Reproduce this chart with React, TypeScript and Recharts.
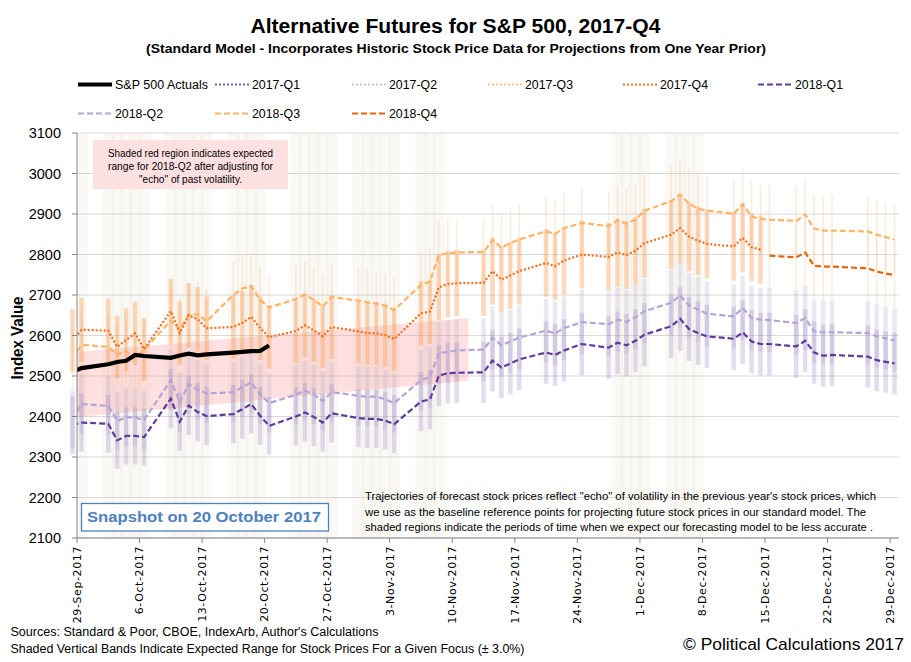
import React from "react";
import {
  ComposedChart,
  Line,
  Area,
  XAxis,
  YAxis,
  CartesianGrid,
  ErrorBar,
  ReferenceArea,
} from "recharts";

// trading days shown on the chart (Sep 28 only feeds the clipped left edge)
const tradingDays = [
  "2017-09-28", "2017-09-29",
  "2017-10-02", "2017-10-03", "2017-10-04", "2017-10-05", "2017-10-06",
  "2017-10-09", "2017-10-10", "2017-10-11", "2017-10-12", "2017-10-13",
  "2017-10-16", "2017-10-17", "2017-10-18", "2017-10-19", "2017-10-20",
  "2017-10-23", "2017-10-24", "2017-10-25", "2017-10-26", "2017-10-27",
  "2017-10-30", "2017-10-31", "2017-11-01", "2017-11-02", "2017-11-03",
  "2017-11-06", "2017-11-07", "2017-11-08", "2017-11-09", "2017-11-10",
  "2017-11-13", "2017-11-14", "2017-11-15", "2017-11-16", "2017-11-17",
  "2017-11-20", "2017-11-21", "2017-11-22", "2017-11-24",
  "2017-11-27", "2017-11-28", "2017-11-29", "2017-11-30", "2017-12-01",
  "2017-12-04", "2017-12-05", "2017-12-06", "2017-12-07", "2017-12-08",
  "2017-12-11", "2017-12-12", "2017-12-13", "2017-12-14", "2017-12-15",
  "2017-12-18", "2017-12-19", "2017-12-20", "2017-12-21", "2017-12-22",
  "2017-12-26", "2017-12-27", "2017-12-28", "2017-12-29",
];

// S&P 500 actuals, from 2017-09-28
const actuals = [
  2510.06, 2519.36, 2529.12, 2534.58, 2537.74, 2552.07, 2549.33, 2544.73,
  2550.64, 2555.24, 2550.93, 2553.17, 2557.64, 2559.36, 2561.26, 2562.1,
  2575.21,
];

// 2017-Q4 focus, from 2017-09-28 to 2017-12-14
const q4_2017 = [
  2588, 2614,
  2612, 2572, 2589, 2605, 2566,
  2660, 2606, 2650, 2640, 2618,
  2621, 2631, 2646, 2618, 2596,
  2611, 2625, 2613, 2598, 2621,
  2610, 2606, 2605, 2601, 2591,
  2655, 2659, 2719, 2727, 2729,
  2730, 2759, 2738, 2748, 2759,
  2779, 2771, 2785, 2800,
  2794, 2805, 2799, 2809, 2828,
  2849, 2865, 2844, 2834, 2826,
  2820, 2841, 2818, 2812,
];

// 2018-Q1 focus, full range
const q1_2018 = [
  2379, 2385,
  2382, 2341, 2352, 2352, 2349,
  2444, 2387, 2427, 2411, 2401,
  2406, 2418, 2431, 2402, 2377,
  2400, 2410, 2399, 2385, 2408,
  2396, 2394, 2394, 2390, 2381,
  2437, 2442, 2501, 2507, 2508,
  2509, 2538, 2521, 2531, 2541,
  2558, 2552, 2563, 2579,
  2570, 2582, 2576, 2587, 2602,
  2623, 2641, 2616, 2606, 2598,
  2592, 2608, 2585, 2579, 2579,
  2573, 2587, 2558, 2550, 2552,
  2548, 2539, 2535, 2531,
];

// 2018-Q2 focus, full range
const q2_2018 = [
  2393, 2431,
  2426, 2389, 2398, 2398, 2391,
  2490, 2435, 2480, 2466, 2457,
  2460, 2472, 2484, 2455, 2433,
  2454, 2464, 2454, 2438, 2460,
  2451, 2449, 2449, 2443, 2433,
  2490, 2497, 2556, 2560, 2563,
  2565, 2594, 2576, 2585, 2595,
  2612, 2605, 2618, 2633,
  2628, 2639, 2634, 2645, 2660,
  2681, 2699, 2674, 2664, 2654,
  2647, 2668, 2643, 2639, 2638,
  2631, 2643, 2610, 2608, 2608,
  2606, 2598, 2593, 2588,
];

// 2018-Q3 focus, full range
const q3_2018 = [
  2543, 2577,
  2572, 2553, 2562, 2545, 2564,
  2637, 2615, 2650, 2653, 2635,
  2700, 2716, 2722, 2688, 2669,
  2690, 2701, 2688, 2672, 2695,
  2686, 2682, 2679, 2673, 2663,
  2725, 2733, 2799, 2803, 2805,
  2806, 2836, 2817, 2828, 2837,
  2857, 2851, 2865, 2878,
  2870, 2884, 2876, 2886, 2908,
  2932, 2947, 2926, 2913, 2908,
  2901, 2924, 2894, 2888, 2886,
  2883, 2899, 2864, 2859, 2859,
  2857, 2849, 2843, 2837,
];

// 2018-Q4 focus, from 2017-12-15
const q4_2018 = [2797, 2793, 2805, 2772, 2770, 2770, 2766, 2758, 2753, 2749];

// days when the model is expected to be less accurate (shaded bands)
const lessAccurateDays = [
  "2017-09-29",
  "2017-10-02", "2017-10-03", "2017-10-04", "2017-10-05", "2017-10-06",
  "2017-10-09", "2017-10-10", "2017-10-11", "2017-10-12", "2017-10-13",
  "2017-10-16", "2017-10-17", "2017-10-18", "2017-10-19",
  "2017-10-23", "2017-10-24", "2017-10-25", "2017-10-26", "2017-10-27",
  "2017-10-30", "2017-10-31", "2017-11-01", "2017-11-02", "2017-11-03",
  "2017-11-06", "2017-11-07", "2017-11-08",
  "2017-11-28", "2017-11-29", "2017-11-30", "2017-12-01",
  "2017-12-04", "2017-12-05", "2017-12-06", "2017-12-07",
];

// red "echo" region for 2018-Q2 (days after 29-Sep, low, high)
const echoRegionDays = [0, 43.8];
const echoRegionLow = [2399, 2488];
const echoRegionHigh = [2559, 2643];

const tickDates = [
  "2017-09-29", "2017-10-06", "2017-10-13", "2017-10-20", "2017-10-27",
  "2017-11-03", "2017-11-10", "2017-11-17", "2017-11-24", "2017-12-01",
  "2017-12-08", "2017-12-15", "2017-12-22", "2017-12-29",
];
const tickLabels = [
  "29-Sep-2017", "6-Oct-2017", "13-Oct-2017", "20-Oct-2017", "27-Oct-2017",
  "3-Nov-2017", "10-Nov-2017", "17-Nov-2017", "24-Nov-2017", "1-Dec-2017",
  "8-Dec-2017", "15-Dec-2017", "22-Dec-2017", "29-Dec-2017",
];
const yTicks = [2100, 2200, 2300, 2400, 2500, 2600, 2700, 2800, 2900, 3000, 3100];

const BAND = 0.03; // +/- 3.0% expected range
const FONT = "'Liberation Sans Narrow', 'Liberation Sans', Arial, sans-serif";

const ORIGIN = Date.UTC(2017, 8, 29);
const dayOf = (iso: string) => {
  const [y, m, d] = iso.split("-").map(Number);
  return (Date.UTC(y, m - 1, d) - ORIGIN) / 86400000;
};

function points(start: string, values: number[]) {
  const i0 = tradingDays.indexOf(start);
  return values.map((v, i) => ({
    x: dayOf(tradingDays[i0 + i]) + 0.5,
    v,
    err: v * BAND,
  }));
}

const actualPts = points("2017-09-28", actuals);
const q4_2017Pts = points("2017-09-28", q4_2017);
const q1_2018Pts = points("2017-09-28", q1_2018);
const q2_2018Pts = points("2017-09-28", q2_2018);
const q3_2018Pts = points("2017-09-28", q3_2018);
const q4_2018Pts = points("2017-12-15", q4_2018);

const echoRegion = echoRegionDays.map((x, i) => ({
  x,
  range: [echoRegionLow[i], echoRegionHigh[i]],
}));

const tickDays = tickDates.map(dayOf);

const legendItems = [
  { name: "S&P 500 Actuals", color: "#000000", dash: "", width: 4 },
  { name: "2017-Q1", color: "#8064a2", dash: "2 2", width: 2 },
  { name: "2017-Q2", color: "#ccc1da", dash: "2 2", width: 2 },
  { name: "2017-Q3", color: "#fac090", dash: "2 2", width: 2 },
  { name: "2017-Q4", color: "#ee6f22", dash: "2 2", width: 2 },
  { name: "2018-Q1", color: "#5e3b98", dash: "6 3", width: 2.2 },
  { name: "2018-Q2", color: "#b3a5d4", dash: "6 3", width: 2.2 },
  { name: "2018-Q3", color: "#fdb466", dash: "6 3", width: 2.2 },
  { name: "2018-Q4", color: "#e4650a", dash: "6 3", width: 2.2 },
];

const DateTick = ({ x, y, payload }: any) => {
  const idx = tickDays.indexOf(payload.value);
  return (
    <g transform={`translate(${x},${y})`}>
      <text
        transform="rotate(-90)"
        x={-1}
        dy="0.35em"
        textAnchor="end"
        fontSize={11}
        letterSpacing={0.6}
        fontFamily="'DejaVu Sans', sans-serif"
        fill="#000"
      >
        {tickLabels[idx] ?? ""}
      </text>
    </g>
  );
};

function BarsOnly({ data, color, width }: any) {
  return (
    <Line
      data={data}
      dataKey="v"
      stroke="none"
      dot={false}
      activeDot={false}
      legendType="none"
      isAnimationActive={false}
    >
      <ErrorBar dataKey="err" direction="y" width={0} strokeWidth={width} stroke={color} />
    </Line>
  );
}

export default function App() {
  const legendCols = [78, 215, 352, 488, 623, 758];
  return (
    <div style={{ position: "absolute", left: 0, top: 0, width: 911, height: 662, background: "#fff" }}>
      <ComposedChart
        width={911}
        height={662}
        margin={{ top: 133, right: 12, bottom: 44, left: 32 }}
      >
        <CartesianGrid vertical={false} stroke="#d9d9d9" />
        <XAxis
          type="number"
          dataKey="x"
          domain={[0, 92]}
          ticks={tickDays}
          interval={0}
          allowDataOverflow
          height={80}
          tick={DateTick}
          tickSize={5}
          axisLine={{ stroke: "#868686" }}
          tickLine={{ stroke: "#868686" }}
        />
        <YAxis
          type="number"
          domain={[2100, 3100]}
          ticks={yTicks}
          interval={0}
          allowDataOverflow
          width={45}
          tickSize={5}
          tickMargin={11}
          tick={{ fontSize: 14.5, fill: "#000", fontFamily: FONT }}
          axisLine={{ stroke: "#868686" }}
          tickLine={{ stroke: "#868686" }}
        />
        {lessAccurateDays.map((d) => (
          <ReferenceArea
            key={d}
            x1={dayOf(d) + 0.5 - 0.65}
            x2={dayOf(d) + 0.5 + 0.65}
            y1={2100}
            y2={3100}
            ifOverflow="hidden"
            fill="#d8ceb0"
            fillOpacity={0.12}
            stroke="none"
          />
        ))}
        <Area
          data={echoRegion}
          dataKey="range"
          type="linear"
          stroke="none"
          fill="#ff8c8c"
          fillOpacity={0.27}
          isAnimationActive={false}
        />
        {BarsOnly({ data: q3_2018Pts, color: "rgba(250,190,140,0.3)", width: 1.5 })}
        {BarsOnly({ data: q4_2018Pts, color: "rgba(250,190,140,0.3)", width: 1.5 })}
        {BarsOnly({ data: q4_2017Pts, color: "rgba(247,150,70,0.36)", width: 4.5 })}
        {BarsOnly({ data: q2_2018Pts, color: "rgba(175,165,205,0.26)", width: 4.5 })}
        {BarsOnly({ data: q1_2018Pts, color: "rgba(150,130,195,0.28)", width: 4.5 })}
        <Line data={q3_2018Pts} dataKey="v" type="linear" stroke="#fdb466" strokeWidth={2.2} strokeDasharray="6 3" dot={false} isAnimationActive={false} />
        <Line data={q4_2017Pts} dataKey="v" type="linear" stroke="#ee6f22" strokeWidth={2.2} strokeDasharray="2 2" dot={false} isAnimationActive={false} />
        <Line data={q2_2018Pts} dataKey="v" type="linear" stroke="#b3a5d4" strokeWidth={2.2} strokeDasharray="6 3" dot={false} isAnimationActive={false} />
        <Line data={q1_2018Pts} dataKey="v" type="linear" stroke="#5e3b98" strokeWidth={2.2} strokeDasharray="6 3" dot={false} isAnimationActive={false} />
        <Line data={q4_2018Pts} dataKey="v" type="linear" stroke="#e4650a" strokeWidth={2.2} strokeDasharray="6 3" dot={false} isAnimationActive={false} />
        <Line data={actualPts} dataKey="v" type="linear" stroke="#000000" strokeWidth={4.2} dot={false} isAnimationActive={false} />
      </ComposedChart>

      <svg
        width={911}
        height={662}
        style={{ position: "absolute", left: 0, top: 0, pointerEvents: "none" }}
        fontFamily={FONT}
      >
        <text x={455.5} y={33} textAnchor="middle" fontSize={20} fontWeight="bold" textLength={410} lengthAdjust="spacingAndGlyphs">
          {"Alternative Futures for S&P 500, 2017-Q4"}
        </text>
        <text x={456} y={53} textAnchor="middle" fontSize={13.5} fontWeight="bold" textLength={620} lengthAdjust="spacingAndGlyphs">
          (Standard Model - Incorporates Historic Stock Price Data for Projections from One Year Prior)
        </text>

        {legendItems.map((item, i) => {
          const row = i < 6 ? 0 : 1;
          const col = i < 6 ? i : i - 6;
          const lx = legendCols[col];
          const ly = row === 0 ? 84.5 : 113.5;
          return (
            <g key={item.name}>
              <line x1={lx} x2={lx + 34} y1={ly} y2={ly} stroke={item.color} strokeWidth={item.width} strokeDasharray={item.dash || undefined} />
              <text x={lx + 37} y={ly + 4.5} fontSize={12.5} textLength={item.name.length > 8 ? 93 : 48} lengthAdjust="spacingAndGlyphs">
                {item.name}
              </text>
            </g>
          );
        })}

        <text transform="translate(23,338) rotate(-90)" textAnchor="middle" fontSize={16} fontWeight="bold" textLength={83} lengthAdjust="spacingAndGlyphs">
          Index Value
        </text>

        <rect x={93} y={140} width={195} height={49} fill="#fde0e0" />
        <g fontSize={11} textAnchor="middle">
          <text x={190.5} y={156.5} textLength={165} lengthAdjust="spacingAndGlyphs">Shaded red region indicates expected</text>
          <text x={190.5} y={169.5} textLength={165} lengthAdjust="spacingAndGlyphs">range for 2018-Q2  after adjusting for</text>
          <text x={190.5} y={182.5} textLength={103} lengthAdjust="spacingAndGlyphs">"echo" of past volatility.</text>
        </g>

        <g fontSize={11.5}>
          <text x={365} y={500} textLength={511} lengthAdjust="spacingAndGlyphs">
            Trajectories of forecast stock prices reflect "echo" of volatility in  the previous year's stock prices, which
          </text>
          <text x={365} y={515.5} textLength={501} lengthAdjust="spacingAndGlyphs">
            we use as the baseline reference points for projecting future stock prices in our standard model.  The
          </text>
          <text x={365} y={530.5} textLength={508} lengthAdjust="spacingAndGlyphs">
            shaded regions indicate the periods of time when we expect our forecasting model to be less accurate .
          </text>
        </g>

        <rect x={81.5} y={503.5} width={247} height={27.5} fill="#fff" stroke="#4f81bd" strokeWidth={1.3} />
        <text x={87} y={522} fontSize={15.5} fontWeight="bold" fill="#4f81bd" textLength={234} lengthAdjust="spacingAndGlyphs">
          Snapshot on 20 October 2017
        </text>

        <text x={10.5} y={635.5} fontSize={12.5} textLength={368} lengthAdjust="spacingAndGlyphs">
          Sources: Standard &amp; Poor, CBOE, IndexArb, Author's Calculations
        </text>
        <text x={10.5} y={653} fontSize={12.5} textLength={514} lengthAdjust="spacingAndGlyphs">
          Shaded Vertical Bands Indicate Expected Range for Stock Prices For a Given Focus (± 3.0%)
        </text>
        <text x={683} y={650} fontSize={17} textLength={221} lengthAdjust="spacingAndGlyphs">
          © Political Calculations 2017
        </text>
      </svg>
    </div>
  );
}
